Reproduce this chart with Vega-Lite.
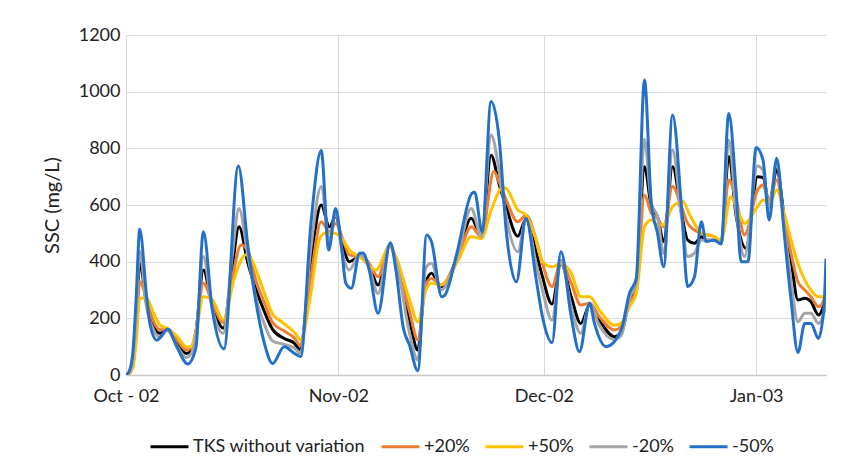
{
"$schema":"https://vega.github.io/schema/vega-lite/v6.json",
"width":700,"height":340,"autosize":"none",
"padding":{"left":126,"top":35,"right":28,"bottom":84},
"background":"white",
"config":{"view":{"stroke":null},"font":"Lato"},
"data":{"values":[
{"series":"TKS without variation","day":0,"SSC":0},{"series":"TKS without variation","day":0.5,"SSC":8},{"series":"TKS without variation","day":1,"SSC":45},{"series":"TKS without variation","day":1.5,"SSC":180},{"series":"TKS without variation","day":2,"SSC":394},{"series":"TKS without variation","day":3,"SSC":253},{"series":"TKS without variation","day":4,"SSC":171},{"series":"TKS without variation","day":5,"SSC":147},{"series":"TKS without variation","day":6,"SSC":159},{"series":"TKS without variation","day":7.5,"SSC":112},{"series":"TKS without variation","day":8.8,"SSC":76},{"series":"TKS without variation","day":9.5,"SSC":85},{"series":"TKS without variation","day":10.2,"SSC":150},{"series":"TKS without variation","day":11.3,"SSC":371},{"series":"TKS without variation","day":12.5,"SSC":255},{"series":"TKS without variation","day":14.2,"SSC":165},{"series":"TKS without variation","day":15.5,"SSC":380},{"series":"TKS without variation","day":16.5,"SSC":523},{"series":"TKS without variation","day":17.8,"SSC":394},{"series":"TKS without variation","day":19,"SSC":300},{"series":"TKS without variation","day":20.2,"SSC":224},{"series":"TKS without variation","day":21.4,"SSC":161},{"series":"TKS without variation","day":23.1,"SSC":129},{"series":"TKS without variation","day":24.6,"SSC":112},{"series":"TKS without variation","day":25.4,"SSC":90},{"series":"TKS without variation","day":27,"SSC":406},{"series":"TKS without variation","day":28.5,"SSC":600},{"series":"TKS without variation","day":29.7,"SSC":523},{"series":"TKS without variation","day":30.6,"SSC":559},{"series":"TKS without variation","day":31.7,"SSC":453},{"series":"TKS without variation","day":32.6,"SSC":400},{"series":"TKS without variation","day":34.1,"SSC":418},{"series":"TKS without variation","day":35.3,"SSC":400},{"series":"TKS without variation","day":36.8,"SSC":318},{"series":"TKS without variation","day":38.5,"SSC":459},{"series":"TKS without variation","day":39.7,"SSC":371},{"series":"TKS without variation","day":41.4,"SSC":194},{"series":"TKS without variation","day":42.6,"SSC":88},{"series":"TKS without variation","day":43.6,"SSC":312},{"series":"TKS without variation","day":44.6,"SSC":359},{"series":"TKS without variation","day":46,"SSC":312},{"series":"TKS without variation","day":48.4,"SSC":418},{"series":"TKS without variation","day":50.4,"SSC":553},{"series":"TKS without variation","day":51.9,"SSC":488},{"series":"TKS without variation","day":53.3,"SSC":776},{"series":"TKS without variation","day":54.5,"SSC":671},{"series":"TKS without variation","day":55.5,"SSC":594},{"series":"TKS without variation","day":57.2,"SSC":490},{"series":"TKS without variation","day":58.4,"SSC":550},{"series":"TKS without variation","day":59.9,"SSC":429},{"series":"TKS without variation","day":60.8,"SSC":347},{"series":"TKS without variation","day":62.2,"SSC":251},{"series":"TKS without variation","day":63.5,"SSC":394},{"series":"TKS without variation","day":65,"SSC":276},{"series":"TKS without variation","day":66.4,"SSC":182},{"series":"TKS without variation","day":67.7,"SSC":247},{"series":"TKS without variation","day":69.1,"SSC":194},{"series":"TKS without variation","day":71.3,"SSC":135},{"series":"TKS without variation","day":72.3,"SSC":147},{"series":"TKS without variation","day":73.5,"SSC":265},{"series":"TKS without variation","day":74.5,"SSC":312},{"series":"TKS without variation","day":75.7,"SSC":735},{"series":"TKS without variation","day":76.7,"SSC":594},{"series":"TKS without variation","day":77.6,"SSC":559},{"series":"TKS without variation","day":78.5,"SSC":471},{"series":"TKS without variation","day":79.8,"SSC":735},{"series":"TKS without variation","day":81.1,"SSC":571},{"series":"TKS without variation","day":82,"SSC":476},{"series":"TKS without variation","day":83,"SSC":465},{"series":"TKS without variation","day":84,"SSC":488},{"series":"TKS without variation","day":84.7,"SSC":476},{"series":"TKS without variation","day":85.9,"SSC":476},{"series":"TKS without variation","day":86.9,"SSC":467},{"series":"TKS without variation","day":88,"SSC":771},{"series":"TKS without variation","day":89.1,"SSC":559},{"series":"TKS without variation","day":90.5,"SSC":447},{"series":"TKS without variation","day":92.2,"SSC":700},{"series":"TKS without variation","day":93,"SSC":697},{"series":"TKS without variation","day":93.9,"SSC":606},{"series":"TKS without variation","day":95,"SSC":725},{"series":"TKS without variation","day":96.1,"SSC":559},{"series":"TKS without variation","day":97.1,"SSC":406},{"series":"TKS without variation","day":98.1,"SSC":265},{"series":"TKS without variation","day":99.1,"SSC":271},{"series":"TKS without variation","day":100,"SSC":259},{"series":"TKS without variation","day":101.1,"SSC":212},{"series":"TKS without variation","day":101.9,"SSC":253},{"series":"TKS without variation","day":102.2,"SSC":290},
{"series":"+20%","day":0,"SSC":0},{"series":"+20%","day":0.5,"SSC":6},{"series":"+20%","day":1,"SSC":35},{"series":"+20%","day":1.5,"SSC":150},{"series":"+20%","day":2,"SSC":329},{"series":"+20%","day":3,"SSC":270},{"series":"+20%","day":4,"SSC":190},{"series":"+20%","day":5,"SSC":160},{"series":"+20%","day":6,"SSC":162},{"series":"+20%","day":7.5,"SSC":122},{"series":"+20%","day":8.8,"SSC":88},{"series":"+20%","day":9.5,"SSC":95},{"series":"+20%","day":10.2,"SSC":155},{"series":"+20%","day":11.3,"SSC":324},{"series":"+20%","day":12.5,"SSC":262},{"series":"+20%","day":14.2,"SSC":185},{"series":"+20%","day":15.5,"SSC":340},{"series":"+20%","day":16.8,"SSC":459},{"series":"+20%","day":17.8,"SSC":440},{"series":"+20%","day":19,"SSC":330},{"series":"+20%","day":20.2,"SSC":255},{"series":"+20%","day":21.4,"SSC":185},{"series":"+20%","day":23.1,"SSC":155},{"series":"+20%","day":24.6,"SSC":130},{"series":"+20%","day":25.4,"SSC":105},{"series":"+20%","day":27,"SSC":350},{"series":"+20%","day":28.5,"SSC":541},{"series":"+20%","day":29.7,"SSC":506},{"series":"+20%","day":30.6,"SSC":535},{"series":"+20%","day":31.7,"SSC":476},{"series":"+20%","day":32.6,"SSC":424},{"series":"+20%","day":34.1,"SSC":418},{"series":"+20%","day":35.3,"SSC":400},{"series":"+20%","day":36.8,"SSC":347},{"series":"+20%","day":38.5,"SSC":459},{"series":"+20%","day":39.7,"SSC":380},{"series":"+20%","day":41.4,"SSC":224},{"series":"+20%","day":42.6,"SSC":124},{"series":"+20%","day":43.8,"SSC":320},{"series":"+20%","day":44.6,"SSC":341},{"series":"+20%","day":46,"SSC":318},{"series":"+20%","day":48.4,"SSC":410},{"series":"+20%","day":50.4,"SSC":523},{"series":"+20%","day":51.9,"SSC":488},{"series":"+20%","day":53.7,"SSC":718},{"series":"+20%","day":54.5,"SSC":680},{"series":"+20%","day":55.5,"SSC":618},{"series":"+20%","day":57.2,"SSC":541},{"series":"+20%","day":58.4,"SSC":564},{"series":"+20%","day":59.9,"SSC":476},{"series":"+20%","day":60.8,"SSC":394},{"series":"+20%","day":62.2,"SSC":312},{"series":"+20%","day":63.5,"SSC":400},{"series":"+20%","day":65,"SSC":324},{"series":"+20%","day":66.4,"SSC":247},{"series":"+20%","day":67.7,"SSC":253},{"series":"+20%","day":69.1,"SSC":206},{"series":"+20%","day":71.3,"SSC":159},{"series":"+20%","day":72.3,"SSC":171},{"series":"+20%","day":73.5,"SSC":253},{"series":"+20%","day":74.5,"SSC":300},{"series":"+20%","day":75.7,"SSC":635},{"series":"+20%","day":76.7,"SSC":571},{"series":"+20%","day":77.6,"SSC":553},{"series":"+20%","day":78.5,"SSC":523},{"series":"+20%","day":79.8,"SSC":665},{"series":"+20%","day":81.1,"SSC":594},{"series":"+20%","day":82,"SSC":535},{"series":"+20%","day":83,"SSC":512},{"series":"+20%","day":84,"SSC":500},{"series":"+20%","day":85.9,"SSC":488},{"series":"+20%","day":86.9,"SSC":471},{"series":"+20%","day":88,"SSC":688},{"series":"+20%","day":89.1,"SSC":618},{"series":"+20%","day":90.3,"SSC":494},{"series":"+20%","day":92.2,"SSC":653},{"series":"+20%","day":93,"SSC":671},{"series":"+20%","day":93.9,"SSC":618},{"series":"+20%","day":95,"SSC":688},{"series":"+20%","day":96.1,"SSC":547},{"series":"+20%","day":97.1,"SSC":429},{"series":"+20%","day":98.1,"SSC":329},{"series":"+20%","day":99.1,"SSC":300},{"series":"+20%","day":100,"SSC":276},{"series":"+20%","day":101.1,"SSC":241},{"series":"+20%","day":101.9,"SSC":265},{"series":"+20%","day":102.2,"SSC":300},
{"series":"+50%","day":0,"SSC":0},{"series":"+50%","day":0.5,"SSC":5},{"series":"+50%","day":1,"SSC":25},{"series":"+50%","day":1.5,"SSC":120},{"series":"+50%","day":2,"SSC":271},{"series":"+50%","day":3,"SSC":271},{"series":"+50%","day":4,"SSC":220},{"series":"+50%","day":5,"SSC":175},{"series":"+50%","day":6,"SSC":165},{"series":"+50%","day":7.5,"SSC":135},{"series":"+50%","day":8.8,"SSC":100},{"series":"+50%","day":9.5,"SSC":100},{"series":"+50%","day":10.2,"SSC":150},{"series":"+50%","day":11.3,"SSC":276},{"series":"+50%","day":12.5,"SSC":268},{"series":"+50%","day":14.2,"SSC":195},{"series":"+50%","day":15.8,"SSC":340},{"series":"+50%","day":17.5,"SSC":424},{"series":"+50%","day":18.5,"SSC":400},{"series":"+50%","day":19,"SSC":370},{"series":"+50%","day":20.2,"SSC":290},{"series":"+50%","day":21.4,"SSC":215},{"series":"+50%","day":22.6,"SSC":190},{"series":"+50%","day":24.6,"SSC":150},{"series":"+50%","day":25.5,"SSC":125},{"series":"+50%","day":27,"SSC":290},{"series":"+50%","day":28.2,"SSC":476},{"series":"+50%","day":29,"SSC":500},{"series":"+50%","day":30.4,"SSC":500},{"series":"+50%","day":31.7,"SSC":476},{"series":"+50%","day":32.6,"SSC":441},{"series":"+50%","day":34.1,"SSC":418},{"series":"+50%","day":36.5,"SSC":371},{"series":"+50%","day":38.5,"SSC":453},{"series":"+50%","day":39.4,"SSC":418},{"series":"+50%","day":41.4,"SSC":265},{"series":"+50%","day":42.6,"SSC":188},{"series":"+50%","day":43.8,"SSC":300},{"series":"+50%","day":44.6,"SSC":324},{"series":"+50%","day":46,"SSC":318},{"series":"+50%","day":48.4,"SSC":400},{"series":"+50%","day":50.4,"SSC":488},{"series":"+50%","day":51.9,"SSC":482},{"series":"+50%","day":53.3,"SSC":580},{"series":"+50%","day":55,"SSC":662},{"series":"+50%","day":55.5,"SSC":659},{"series":"+50%","day":57.2,"SSC":582},{"series":"+50%","day":58.4,"SSC":565},{"series":"+50%","day":59.9,"SSC":476},{"series":"+50%","day":60.8,"SSC":400},{"series":"+50%","day":62.2,"SSC":382},{"series":"+50%","day":63.5,"SSC":394},{"series":"+50%","day":65,"SSC":359},{"series":"+50%","day":66.4,"SSC":276},{"series":"+50%","day":67.7,"SSC":276},{"series":"+50%","day":69.1,"SSC":229},{"series":"+50%","day":71.3,"SSC":176},{"series":"+50%","day":72.3,"SSC":182},{"series":"+50%","day":73.5,"SSC":241},{"series":"+50%","day":74.5,"SSC":288},{"series":"+50%","day":75.7,"SSC":523},{"series":"+50%","day":76.7,"SSC":547},{"series":"+50%","day":77.6,"SSC":529},{"series":"+50%","day":78.5,"SSC":530},{"series":"+50%","day":79.8,"SSC":594},{"series":"+50%","day":81.3,"SSC":612},{"series":"+50%","day":82.3,"SSC":565},{"series":"+50%","day":83,"SSC":535},{"series":"+50%","day":84,"SSC":500},{"series":"+50%","day":85.9,"SSC":488},{"series":"+50%","day":86.9,"SSC":476},{"series":"+50%","day":88.3,"SSC":629},{"series":"+50%","day":89.1,"SSC":594},{"series":"+50%","day":90.3,"SSC":535},{"series":"+50%","day":92.2,"SSC":594},{"series":"+50%","day":93,"SSC":618},{"series":"+50%","day":93.9,"SSC":606},{"series":"+50%","day":95,"SSC":653},{"series":"+50%","day":96.1,"SSC":571},{"series":"+50%","day":97.1,"SSC":476},{"series":"+50%","day":98.1,"SSC":394},{"series":"+50%","day":99.1,"SSC":335},{"series":"+50%","day":100,"SSC":300},{"series":"+50%","day":101.1,"SSC":276},{"series":"+50%","day":101.9,"SSC":276},{"series":"+50%","day":102.2,"SSC":300},
{"series":"-20%","day":0,"SSC":0},{"series":"-20%","day":0.5,"SSC":10},{"series":"-20%","day":1,"SSC":55},{"series":"-20%","day":1.5,"SSC":210},{"series":"-20%","day":2,"SSC":438},{"series":"-20%","day":3,"SSC":240},{"series":"-20%","day":4,"SSC":160},{"series":"-20%","day":5,"SSC":133},{"series":"-20%","day":6,"SSC":158},{"series":"-20%","day":7.5,"SSC":100},{"series":"-20%","day":8.8,"SSC":62},{"series":"-20%","day":9.5,"SSC":75},{"series":"-20%","day":10.2,"SSC":135},{"series":"-20%","day":11.3,"SSC":418},{"series":"-20%","day":12.5,"SSC":245},{"series":"-20%","day":14.2,"SSC":147},{"series":"-20%","day":15.5,"SSC":420},{"series":"-20%","day":16.5,"SSC":588},{"series":"-20%","day":17.8,"SSC":420},{"series":"-20%","day":19,"SSC":270},{"series":"-20%","day":20.2,"SSC":180},{"series":"-20%","day":21.4,"SSC":120},{"series":"-20%","day":23.1,"SSC":108},{"series":"-20%","day":24.6,"SSC":95},{"series":"-20%","day":25.4,"SSC":78},{"series":"-20%","day":27,"SSC":450},{"series":"-20%","day":28.5,"SSC":665},{"series":"-20%","day":29.7,"SSC":476},{"series":"-20%","day":30.6,"SSC":570},{"series":"-20%","day":31.7,"SSC":418},{"series":"-20%","day":32.6,"SSC":371},{"series":"-20%","day":34.1,"SSC":424},{"series":"-20%","day":35.3,"SSC":395},{"series":"-20%","day":36.8,"SSC":288},{"series":"-20%","day":38.5,"SSC":459},{"series":"-20%","day":39.7,"SSC":371},{"series":"-20%","day":41.4,"SSC":147},{"series":"-20%","day":42.6,"SSC":53},{"series":"-20%","day":43.8,"SSC":380},{"series":"-20%","day":44.6,"SSC":394},{"series":"-20%","day":46,"SSC":300},{"series":"-20%","day":48.4,"SSC":420},{"series":"-20%","day":50.4,"SSC":588},{"series":"-20%","day":51.9,"SSC":488},{"series":"-20%","day":53.3,"SSC":847},{"series":"-20%","day":54.5,"SSC":720},{"series":"-20%","day":55.5,"SSC":560},{"series":"-20%","day":57.2,"SSC":435},{"series":"-20%","day":58.4,"SSC":550},{"series":"-20%","day":59.9,"SSC":390},{"series":"-20%","day":60.8,"SSC":300},{"series":"-20%","day":62.2,"SSC":194},{"series":"-20%","day":63.5,"SSC":405},{"series":"-20%","day":65,"SSC":240},{"series":"-20%","day":66.4,"SSC":147},{"series":"-20%","day":67.7,"SSC":250},{"series":"-20%","day":69.1,"SSC":175},{"series":"-20%","day":71.3,"SSC":125},{"series":"-20%","day":72.3,"SSC":140},{"series":"-20%","day":73.5,"SSC":270},{"series":"-20%","day":74.5,"SSC":325},{"series":"-20%","day":75.7,"SSC":832},{"series":"-20%","day":76.7,"SSC":606},{"series":"-20%","day":77.6,"SSC":559},{"series":"-20%","day":78.5,"SSC":429},{"series":"-20%","day":79.8,"SSC":794},{"series":"-20%","day":81.1,"SSC":559},{"series":"-20%","day":82,"SSC":418},{"series":"-20%","day":83,"SSC":430},{"series":"-20%","day":84,"SSC":476},{"series":"-20%","day":85.9,"SSC":476},{"series":"-20%","day":86.9,"SSC":465},{"series":"-20%","day":88,"SSC":829},{"series":"-20%","day":89.1,"SSC":571},{"series":"-20%","day":90.3,"SSC":418},{"series":"-20%","day":92.2,"SSC":738},{"series":"-20%","day":93,"SSC":723},{"series":"-20%","day":93.9,"SSC":590},{"series":"-20%","day":95,"SSC":750},{"series":"-20%","day":96.1,"SSC":520},{"series":"-20%","day":97.1,"SSC":330},{"series":"-20%","day":98.1,"SSC":188},{"series":"-20%","day":99.1,"SSC":218},{"series":"-20%","day":100,"SSC":218},{"series":"-20%","day":101.1,"SSC":182},{"series":"-20%","day":101.9,"SSC":218},{"series":"-20%","day":102.2,"SSC":265},
{"series":"-50%","day":0,"SSC":0},{"series":"-50%","day":0.5,"SSC":15},{"series":"-50%","day":1,"SSC":80},{"series":"-50%","day":1.5,"SSC":280},{"series":"-50%","day":2,"SSC":514},{"series":"-50%","day":3,"SSC":280},{"series":"-50%","day":3.5,"SSC":180},{"series":"-50%","day":4.5,"SSC":123},{"series":"-50%","day":6.1,"SSC":162},{"series":"-50%","day":7.5,"SSC":95},{"series":"-50%","day":9,"SSC":39},{"series":"-50%","day":10.2,"SSC":95},{"series":"-50%","day":11.3,"SSC":506},{"series":"-50%","day":12.6,"SSC":230},{"series":"-50%","day":14.3,"SSC":92},{"series":"-50%","day":16.4,"SSC":738},{"series":"-50%","day":17.8,"SSC":453},{"series":"-50%","day":19,"SSC":253},{"series":"-50%","day":20.2,"SSC":112},{"series":"-50%","day":21.4,"SSC":41},{"series":"-50%","day":23.1,"SSC":100},{"series":"-50%","day":24.6,"SSC":76},{"series":"-50%","day":25.5,"SSC":65},{"series":"-50%","day":27,"SSC":535},{"series":"-50%","day":28.5,"SSC":792},{"series":"-50%","day":29.6,"SSC":441},{"series":"-50%","day":30.6,"SSC":588},{"series":"-50%","day":31.4,"SSC":465},{"series":"-50%","day":32.1,"SSC":324},{"series":"-50%","day":32.9,"SSC":306},{"series":"-50%","day":34.1,"SSC":430},{"series":"-50%","day":34.6,"SSC":431},{"series":"-50%","day":35.5,"SSC":371},{"series":"-50%","day":36.8,"SSC":218},{"series":"-50%","day":38.6,"SSC":467},{"series":"-50%","day":39.4,"SSC":371},{"series":"-50%","day":40.5,"SSC":165},{"series":"-50%","day":41.4,"SSC":105},{"series":"-50%","day":42.6,"SSC":15},{"series":"-50%","day":43.9,"SSC":494},{"series":"-50%","day":44.6,"SSC":470},{"series":"-50%","day":46.1,"SSC":276},{"series":"-50%","day":46.5,"SSC":280},{"series":"-50%","day":48.3,"SSC":429},{"series":"-50%","day":50.5,"SSC":641},{"series":"-50%","day":50.9,"SSC":645},{"series":"-50%","day":52,"SSC":505},{"series":"-50%","day":53.3,"SSC":965},{"series":"-50%","day":54.5,"SSC":829},{"series":"-50%","day":55.5,"SSC":512},{"series":"-50%","day":57,"SSC":329},{"series":"-50%","day":58.4,"SSC":553},{"series":"-50%","day":59.9,"SSC":335},{"series":"-50%","day":60.8,"SSC":206},{"series":"-50%","day":62.2,"SSC":114},{"series":"-50%","day":63.5,"SSC":435},{"series":"-50%","day":65,"SSC":206},{"series":"-50%","day":66.2,"SSC":82},{"series":"-50%","day":67.7,"SSC":253},{"series":"-50%","day":68.4,"SSC":182},{"series":"-50%","day":70.1,"SSC":100},{"series":"-50%","day":72.3,"SSC":159},{"series":"-50%","day":73.5,"SSC":288},{"series":"-50%","day":74.5,"SSC":341},{"series":"-50%","day":75.7,"SSC":1041},{"series":"-50%","day":76.7,"SSC":606},{"series":"-50%","day":77.6,"SSC":500},{"series":"-50%","day":78.5,"SSC":382},{"series":"-50%","day":79.8,"SSC":918},{"series":"-50%","day":81.1,"SSC":594},{"series":"-50%","day":82,"SSC":312},{"series":"-50%","day":83,"SSC":347},{"series":"-50%","day":84,"SSC":541},{"series":"-50%","day":84.7,"SSC":471},{"series":"-50%","day":85.9,"SSC":476},{"series":"-50%","day":86.9,"SSC":462},{"series":"-50%","day":88,"SSC":923},{"series":"-50%","day":89.1,"SSC":641},{"series":"-50%","day":89.8,"SSC":400},{"series":"-50%","day":90.8,"SSC":400},{"series":"-50%","day":92,"SSC":803},{"series":"-50%","day":93,"SSC":759},{"series":"-50%","day":93.9,"SSC":547},{"series":"-50%","day":95,"SSC":765},{"series":"-50%","day":96.1,"SSC":500},{"series":"-50%","day":97.1,"SSC":265},{"series":"-50%","day":98.1,"SSC":79},{"series":"-50%","day":99.1,"SSC":182},{"series":"-50%","day":100,"SSC":182},{"series":"-50%","day":101.1,"SSC":129},{"series":"-50%","day":101.9,"SSC":241},{"series":"-50%","day":102.2,"SSC":410}
]},
"mark":{"type":"line","interpolate":"monotone","strokeWidth":3,"clip":true},
"encoding":{
"x":{"field":"day","type":"quantitative","scale":{"domain":[0,102.2],"nice":false,"zero":false},
"axis":{"values":[0,31,61,92],"labelExpr":"datum.value==0?'Oct - 02':datum.value==31?'Nov-02':datum.value==61?'Dec-02':'Jan-03'","title":null,"grid":true,"gridColor":"#d9d9d9","gridWidth":1,"ticks":false,"domainColor":"#c8c8c8","domainWidth":1.5,"labelFont":"Lato","labelFontSize":18,"labelColor":"#222222","labelPadding":12,"labelFlush":false,"labelOverlap":false}},
"y":{"field":"SSC","type":"quantitative","scale":{"domain":[0,1200],"nice":false},
"axis":{"values":[0,200,400,600,800,1000,1200],"format":"d","title":"SSC (mg/L)","grid":true,"gridColor":"#d9d9d9","gridWidth":1,"domain":false,"ticks":false,"labelFont":"Lato","labelFontSize":18,"labelColor":"#222222","labelPadding":6,"labelFlush":false,"titleFont":"Lato","titleFontSize":20,"titleFontWeight":"normal","titleColor":"#222222","titlePadding":16}},
"color":{"field":"series","type":"nominal","sort":null,
"scale":{"domain":["TKS without variation","+20%","+50%","-20%","-50%"],"range":["#000000","#ED7D31","#FFC000","#A5A5A5","#2470C8"]},
"legend":{"orient":"none","legendX":23,"legendY":391,"direction":"horizontal","columns":5,"title":null,"symbolType":"stroke","symbolSize":1444,"symbolStrokeWidth":3,"labelFont":"Lato","labelFontSize":18,"labelColor":"#222222","labelLimit":0,"columnPadding":9,"labelOffset":3,"padding":0}}
}
}
